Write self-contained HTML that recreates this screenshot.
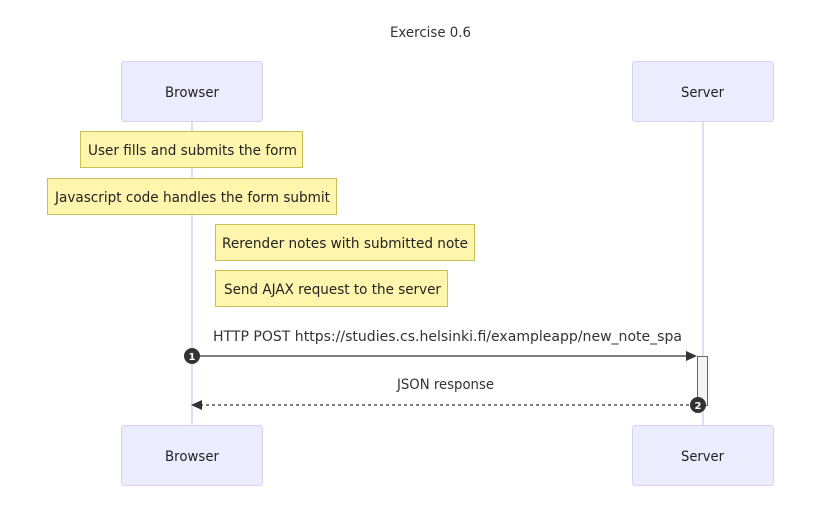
<!DOCTYPE html>
<html><head><style>html,body{margin:0;padding:0;background:#fff}svg{display:block}</style></head>
<body>
<svg width="821" height="510" viewBox="0 0 821 510" xmlns="http://www.w3.org/2000/svg" font-family="'DejaVu Sans', 'Liberation Sans', sans-serif" font-size="14">
<text x="430.5" y="37" text-anchor="middle" fill="#333" textLength="81" lengthAdjust="spacingAndGlyphs">Exercise 0.6</text>
<line x1="192" y1="122" x2="192" y2="425" stroke="#d8d0f0" stroke-width="1.5"/>
<line x1="703" y1="122" x2="703" y2="425" stroke="#d8d0f0" stroke-width="1.5"/>
<g fill="#ececff" stroke="#d8d0f5" stroke-width="1">
<rect x="121.5" y="61.5" width="141" height="60" rx="3"/>
<rect x="632.5" y="61.5" width="141" height="60" rx="3"/>
<rect x="121.5" y="425.5" width="141" height="60" rx="3"/>
<rect x="632.5" y="425.5" width="141" height="60" rx="3"/>
</g>
<g fill="#222" text-anchor="middle" lengthAdjust="spacingAndGlyphs">
<text x="192" y="97" textLength="54" lengthAdjust="spacingAndGlyphs">Browser</text>
<text x="702.5" y="97" textLength="43" lengthAdjust="spacingAndGlyphs">Server</text>
<text x="192" y="461" textLength="54" lengthAdjust="spacingAndGlyphs">Browser</text>
<text x="702.5" y="461" textLength="43" lengthAdjust="spacingAndGlyphs">Server</text>
</g>
<g fill="#fff5ad" stroke="#c8c050" stroke-width="1">
<rect x="80.5" y="131.5" width="222" height="36"/>
<rect x="47.5" y="178.5" width="289" height="36"/>
<rect x="215.5" y="224.5" width="259" height="36"/>
<rect x="215.5" y="270.5" width="232" height="36"/>
</g>
<g fill="#222" text-anchor="middle">
<text x="192.5" y="155" textLength="209" lengthAdjust="spacingAndGlyphs">User fills and submits the form</text>
<text x="192.5" y="202" textLength="275" lengthAdjust="spacingAndGlyphs">Javascript code handles the form submit</text>
<text x="345" y="248" textLength="246" lengthAdjust="spacingAndGlyphs">Rerender notes with submitted note</text>
<text x="332.5" y="294" textLength="217" lengthAdjust="spacingAndGlyphs">Send AJAX request to the server</text>
</g>
<rect x="697.5" y="356.5" width="10" height="49" fill="#f4f4f4" stroke="#666" stroke-width="1"/>
<text x="447.5" y="341" text-anchor="middle" fill="#333" textLength="469" lengthAdjust="spacingAndGlyphs">HTTP POST https://studies.cs.helsinki.fi/exampleapp/new_note_spa</text>
<line x1="192" y1="356" x2="688" y2="356" stroke="#333" stroke-width="1.2"/>
<polygon points="697,356 686,351 686,361" fill="#333"/>
<circle cx="192" cy="356" r="8" fill="#333"/>
<text x="192" y="360" text-anchor="middle" fill="#fff" font-size="10" font-weight="bold">1</text>
<text x="445.5" y="389" text-anchor="middle" fill="#333" textLength="97" lengthAdjust="spacingAndGlyphs">JSON response</text>
<line x1="200" y1="405" x2="697" y2="405" stroke="#333" stroke-width="1.2" stroke-dasharray="3,3"/>
<polygon points="191,405 202,400 202,410" fill="#333"/>
<circle cx="698" cy="405" r="8" fill="#333"/>
<text x="698" y="409" text-anchor="middle" fill="#fff" font-size="10" font-weight="bold">2</text>
</svg>
</body></html>
